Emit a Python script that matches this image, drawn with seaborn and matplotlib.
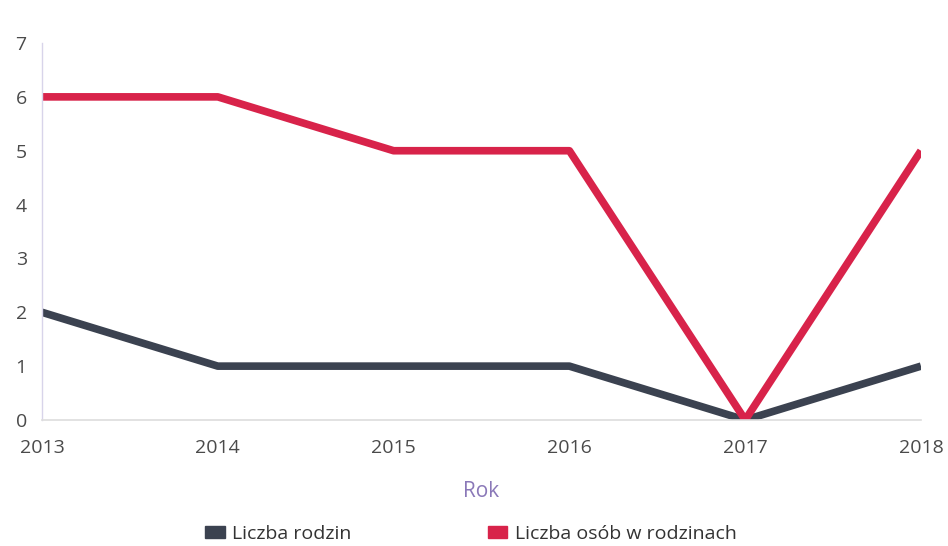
import matplotlib
matplotlib.use("Agg")
import matplotlib.pyplot as plt
import seaborn as sns
import pandas as pd

years = [2013, 2014, 2015, 2016, 2017, 2018]
rodziny = [2, 1, 1, 1, 0, 1]
osoby = [6, 6, 5, 5, 0, 5]
names = ["Liczba rodzin", "Liczba osób w rodzinach"]
colors = ["#3b4250", "#d8234a"]

df = pd.DataFrame({
    "Rok": years * 2,
    "value": rodziny + osoby,
    "seria": [names[0]] * len(years) + [names[1]] * len(years),
})

sns.set_style("white")
plt.rcParams["font.family"] = ["Open Sans", "DejaVu Sans"]

fig = plt.figure(figsize=(9.48, 5.46), dpi=100)
ax = fig.add_axes([0.0443, 0.2308, 0.9272, 0.6904])

sns.lineplot(data=df, x="Rok", y="value", hue="seria", palette=colors,
             linewidth=5.5, ax=ax, legend=False, solid_capstyle="butt")

ax.set_xlim(2013, 2018)
ax.set_ylim(0, 7)
ax.set_xticks(years)
ax.set_yticks(range(0, 8))
ax.tick_params(axis="both", length=0, labelsize=14, colors="#4a4a4a")
ax.tick_params(axis="x", pad=14)
ax.tick_params(axis="y", pad=15)
for lbl in ax.get_yticklabels():
    lbl.set_horizontalalignment("center")
ax.set_ylabel("")
ax.set_xlabel("Rok", fontsize=15, color="#8a78b8", labelpad=17)

for s in ["top", "right"]:
    ax.spines[s].set_visible(False)
ax.spines["left"].set_color("#d8d4ea")
ax.spines["left"].set_linewidth(1)
ax.spines["bottom"].set_color("#dddddd")
ax.spines["bottom"].set_linewidth(1.2)

handles = [plt.Rectangle((0, 0), 1, 1, color=c) for c in colors]
fig.legend(handles, names, loc="center", bbox_to_anchor=(0.497, 0.022),
           ncol=2, frameon=False, fontsize=14, handlelength=1.0,
           handleheight=0.6, handletextpad=0.4, columnspacing=7.0,
           labelcolor="#333333")

fig.savefig("out.png", dpi=100)
